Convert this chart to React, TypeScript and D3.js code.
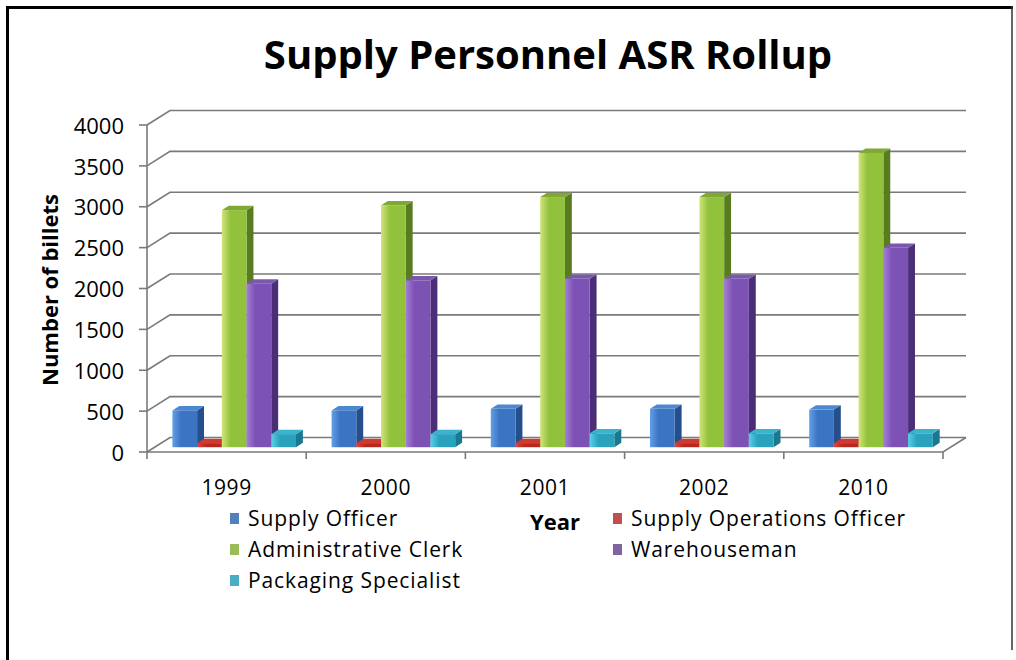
import React from "react";
import * as d3 from "d3";

const years = ["1999", "2000", "2001", "2002", "2010"];
const seriesNames = [
  "Supply Officer",
  "Supply Operations Officer",
  "Administrative Clerk",
  "Warehouseman",
  "Packaging Specialist",
];
const supplyOfficer = [450, 450, 470, 470, 460];
const supplyOpsOfficer = [50, 50, 50, 50, 50];
const adminClerk = [2900, 2960, 3060, 3060, 3600];
const warehouseman = [2000, 2040, 2060, 2060, 2440];
const packagingSpecialist = [160, 160, 170, 170, 170];
const yTicks = [0, 500, 1000, 1500, 2000, 2500, 3000, 3500, 4000];

const seriesValues = [supplyOfficer, supplyOpsOfficer, adminClerk, warehouseman, packagingSpecialist];

const palette = [
  { light: "#62A0E6", base: "#3A74C2", side: "#254E8C", top: "#4C88D2", legend: "#4F81BD" },
  { light: "#E0453E", base: "#B8281F", side: "#7A1810", top: "#CC3A30", legend: "#C0504D" },
  { light: "#D2E47A", base: "#92C23C", side: "#5A7C20", top: "#7FA834", legend: "#9BBB59" },
  { light: "#A67ED8", base: "#7C52B4", side: "#4A2E78", top: "#7A58AC", legend: "#8064A2" },
  { light: "#5AD0E6", base: "#2AA2BE", side: "#1A7890", top: "#3AB4CC", legend: "#4BACC6" },
];

const FONT = "'Open Sans', 'DejaVu Sans', sans-serif";

export default function App() {
  const W = 1016;
  const H = 660;
  const x0 = 147;
  const x1 = 943;
  const DX = 23;
  const DY = -14.5;
  const f0 = 0.33;
  const f1 = 0.63;

  const x = d3.scaleBand<string>().domain(years).range([x0, x1]).padding(0);
  const xs = d3
    .scaleBand<string>()
    .domain(seriesNames)
    .range([0, x.bandwidth()])
    .paddingInner(0)
    .paddingOuter(0.72);
  const y = d3.scaleLinear().domain([0, 4000]).range([452, 125]);

  const gridColor = "#7a7a7a";
  const pt = (px: number, py: number) => `${px},${py}`;

  const bars: JSX.Element[] = [];
  years.forEach((yr, ci) => {
    seriesNames.forEach((s, si) => {
      const v = seriesValues[si][ci];
      const bx0 = (x(yr) as number) + (xs(s) as number);
      const bx1 = bx0 + xs.bandwidth();
      const fx0 = bx0 + DX * f0;
      const fx1 = bx1 + DX * f0;
      const fyTop = y(v) + DY * f0;
      const fyBot = y(0) + DY * f0;
      const bdx = DX * (f1 - f0);
      const bdy = DY * (f1 - f0);
      const c = palette[si];
      bars.push(
        <g key={`${yr}-${s}`}>
          <polygon
            points={[
              pt(fx1, fyTop),
              pt(fx1 + bdx, fyTop + bdy),
              pt(fx1 + bdx, fyBot + bdy),
              pt(fx1, fyBot),
            ].join(" ")}
            fill={c.side}
          />
          <polygon
            points={[
              pt(fx0, fyTop),
              pt(fx1, fyTop),
              pt(fx1 + bdx, fyTop + bdy),
              pt(fx0 + bdx, fyTop + bdy),
            ].join(" ")}
            fill={c.top}
          />
          <rect x={fx0} y={fyTop} width={fx1 - fx0} height={fyBot - fyTop} fill={`url(#g${si})`} />
        </g>
      );
    });
  });

  const legendItems = [
    { name: seriesNames[0], lx: 230, ly: 519 },
    { name: seriesNames[1], lx: 613, ly: 519 },
    { name: seriesNames[2], lx: 230, ly: 550 },
    { name: seriesNames[3], lx: 613, ly: 550 },
    { name: seriesNames[4], lx: 230, ly: 581 },
  ];

  return (
    <svg
      width={W}
      height={H}
      style={{ position: "absolute", left: 0, top: 0, background: "#fff" }}
      fontFamily={FONT}
    >
      <defs>
        {palette.map((c, i) => (
          <linearGradient key={i} id={`g${i}`} x1="0" x2="1" y1="0" y2="0">
            <stop offset="0" stopColor={c.light} />
            <stop offset="0.35" stopColor={c.base} />
            <stop offset="1" stopColor={c.base} />
          </linearGradient>
        ))}
      </defs>
      <rect x={0} y={0} width={W} height={H} fill="#fff" />
      {/* frame */}
      <line x1={7.5} y1={6} x2={7.5} y2={H} stroke="#000" strokeWidth={3} />
      <line x1={6} y1={7.5} x2={1013} y2={7.5} stroke="#000" strokeWidth={3} />
      <line x1={1012} y1={6} x2={1012} y2={650} stroke="#333" strokeWidth={1.5} />

      {/* title */}
      <text x={548} y={69} textAnchor="middle" fontSize={40} fontWeight="bold" fill="#000">
        Supply Personnel ASR Rollup
      </text>

      {/* gridlines: left wall diagonals + back wall */}
      {yTicks.map((t) => (
        <g key={t}>
          <polyline
            points={[pt(x0, y(t)), pt(x0 + DX, y(t) + DY), pt(x1 + DX, y(t) + DY)].join(" ")}
            fill="none"
            stroke={gridColor}
            strokeWidth={1.6}
          />
          <line x1={x0 - 8} y1={y(t)} x2={x0} y2={y(t)} stroke={gridColor} strokeWidth={1.6} />
          <text x={124} y={y(t) + 1} dy="0.35em" textAnchor="end" fontSize={22} fill="#000">
            {t}
          </text>
        </g>
      ))}
      {/* vertical axis */}
      <line x1={x0} y1={y(4000)} x2={x0} y2={y(0)} stroke={gridColor} strokeWidth={1.6} />
      {/* floor */}
      <polyline
        points={[pt(x0, y(0)), pt(x1, y(0)), pt(x1 + DX, y(0) + DY)].join(" ")}
        fill="none"
        stroke={gridColor}
        strokeWidth={1.6}
      />
      {/* category ticks */}
      {[...years.map((yr) => x(yr) as number), x1].map((tx, i) => (
        <line key={i} x1={tx} y1={y(0)} x2={tx} y2={y(0) + 7} stroke={gridColor} strokeWidth={1.6} />
      ))}

      {bars}

      {/* category labels */}
      {years.map((yr) => (
        <text
          key={yr}
          x={(x(yr) as number) + x.bandwidth() / 2}
          y={488}
          dy="0.35em"
          textAnchor="middle"
          fontSize={21}
          letterSpacing={0.6}
          fill="#000"
        >
          {yr}
        </text>
      ))}

      {/* axis titles */}
      <text
        transform={`translate(50,290) rotate(-90)`}
        textAnchor="middle"
        dy="0.35em"
        fontSize={22}
        fontWeight="bold"
        fill="#000"
      >
        Number of billets
      </text>
      <text x={555} y={522} dy="0.35em" textAnchor="middle" fontSize={22} fontWeight="bold" fill="#000">
        Year
      </text>

      {/* legend */}
      {legendItems.map((it) => {
        const si = seriesNames.indexOf(it.name);
        return (
          <g key={it.name}>
            <rect x={it.lx} y={it.ly - 6} width={9} height={11} fill={palette[si].legend} />
            <text x={it.lx + 18} y={it.ly} dy="0.35em" fontSize={21} letterSpacing={0.9} fill="#000">
              {it.name}
            </text>
          </g>
        );
      })}
    </svg>
  );
}
